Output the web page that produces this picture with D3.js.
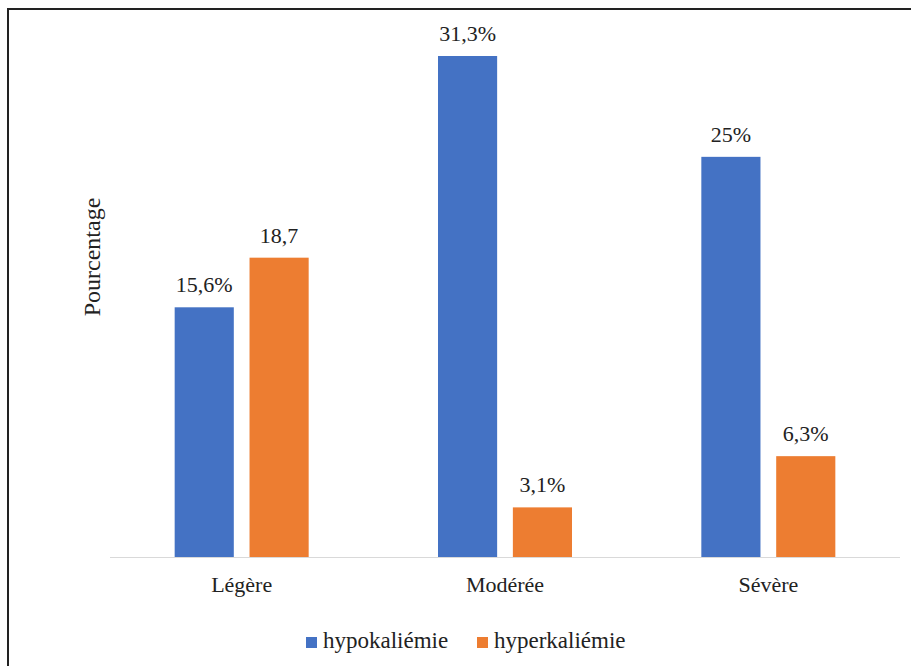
<!DOCTYPE html>
<html>
<head>
<meta charset="utf-8">
<script src="https://cdn.jsdelivr.net/npm/d3@7"></script>
<style>
  body { margin: 0; background: #fff; }
</style>
</head>
<body>
<div id="chart"></div>
<script>
// data
const categories = ['Légère', 'Modérée', 'Sévère'];
const seriesNames = ['hypokaliémie', 'hyperkaliémie'];
const hypoValues = [15.6, 31.3, 25];
const hyperValues = [18.7, 3.1, 6.3];
const hypoLabels = ['15,6%', '31,3%', '25%'];
const hyperLabels = ['18,7', '3,1%', '6,3%'];
const colors = ['#4472C4', '#ED7D31'];

const FONT = 'Liberation Serif';
const W = 911, H = 666;
const baseY = 557;

const rows = categories.map((c, i) => ({
  cat: c,
  vals: [
    { s: 0, v: hypoValues[i], label: hypoLabels[i] },
    { s: 1, v: hyperValues[i], label: hyperLabels[i] }
  ]
}));

const svg = d3.select('#chart').append('svg')
  .attr('width', W)
  .attr('height', H)
  .attr('font-family', FONT);

// frame
svg.append('rect')
  .attr('x', 8).attr('y', 9)
  .attr('width', W + 10).attr('height', H + 10)
  .attr('fill', 'none')
  .attr('stroke', '#222')
  .attr('stroke-width', 2);

// scales
const x0 = d3.scaleBand()
  .domain(categories)
  .range([110, 900])
  .padding(0);

const groupW = 134;
const x1 = d3.scaleBand()
  .domain([0, 1])
  .range([0, groupW])
  .paddingInner(0.21);

const y = d3.scaleLinear()
  .domain([0, 31.3])
  .range([baseY, 56]);

// baseline
svg.append('line')
  .attr('x1', 110).attr('x2', 900)
  .attr('y1', baseY + 0.5).attr('y2', baseY + 0.5)
  .attr('stroke', '#d9d9d9')
  .attr('stroke-width', 1);

const groups = svg.selectAll('g.cat')
  .data(rows)
  .join('g')
  .attr('class', 'cat')
  .attr('transform', d => `translate(${x0(d.cat) + (x0.bandwidth() - groupW) / 2},0)`);

groups.selectAll('rect')
  .data(d => d.vals)
  .join('rect')
  .attr('x', d => x1(d.s))
  .attr('width', x1.bandwidth())
  .attr('y', d => y(d.v))
  .attr('height', d => baseY - y(d.v))
  .attr('fill', d => colors[d.s]);

groups.selectAll('text.val')
  .data(d => d.vals)
  .join('text')
  .attr('class', 'val')
  .attr('x', d => x1(d.s) + x1.bandwidth() / 2)
  .attr('y', d => y(d.v) - 15)
  .attr('text-anchor', 'middle')
  .attr('font-family', FONT)
  .attr('font-size', 22)
  .attr('fill', '#222')
  .text(d => d.label);

// category labels
const xAxis = svg.append('g')
  .attr('transform', `translate(0,${baseY})`)
  .call(d3.axisBottom(x0).tickSize(0).tickPadding(0))
  .attr('font-family', FONT)
  .attr('font-size', 22);
xAxis.select('.domain').remove();
xAxis.selectAll('text')
  .attr('y', 35)
  .attr('dy', 0)
  .attr('fill', '#222');

// y axis title
svg.append('text')
  .attr('transform', 'translate(100,257) rotate(-90)')
  .attr('text-anchor', 'middle')
  .attr('font-family', FONT)
  .attr('font-size', 24)
  .attr('fill', '#222')
  .text('Pourcentage');

// legend
const legendX = [306, 477];
const legend = svg.selectAll('g.legend')
  .data(seriesNames)
  .join('g')
  .attr('class', 'legend')
  .attr('transform', (d, i) => `translate(${legendX[i]},637)`);

legend.append('rect')
  .attr('width', 11).attr('height', 11)
  .attr('fill', (d, i) => colors[i]);

legend.append('text')
  .attr('x', 17)
  .attr('y', 11)
  .attr('font-family', FONT)
  .attr('font-size', 23)
  .attr('fill', '#222')
  .text(d => d);
</script>
</body>
</html>
